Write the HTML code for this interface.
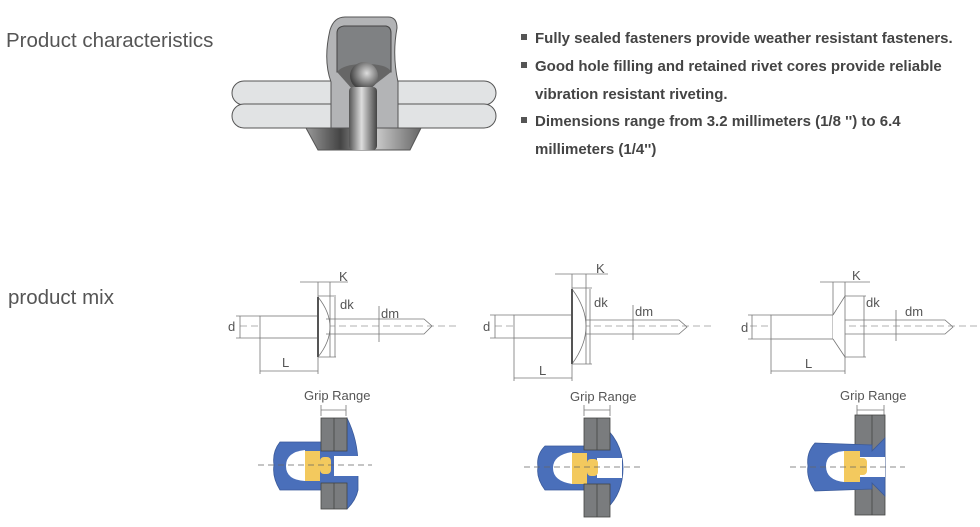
<!DOCTYPE html>
<html><head><meta charset="utf-8"><style>
body{margin:0;background:#fff;width:980px;height:527px;overflow:hidden;font-family:"Liberation Sans",sans-serif}
svg{position:absolute;left:0;top:0}
.t{font-family:"Liberation Sans",sans-serif;fill:#555}
</style></head><body>
<svg width="980" height="527" viewBox="0 0 980 527">
<defs>
<linearGradient id="mand" x1="0" x2="1"><stop offset="0" stop-color="#555"/><stop offset="0.45" stop-color="#ddd"/><stop offset="1" stop-color="#444"/></linearGradient>
<radialGradient id="ball" cx="0.6" cy="0.4" r="0.6"><stop offset="0" stop-color="#ddd"/><stop offset="1" stop-color="#444"/></radialGradient>
<linearGradient id="flange" x1="0" x2="1"><stop offset="0" stop-color="#999"/><stop offset="0.3" stop-color="#444"/><stop offset="0.6" stop-color="#ccc"/><stop offset="1" stop-color="#666"/></linearGradient>
</defs>
<text x="6" y="47" font-size="20.5" class="t" fill="#555">Product characteristics</text>
<text x="8" y="304" font-size="20.5" class="t">product mix</text>

<rect x="232" y="81" width="264" height="24" rx="12" fill="#e1e3e4" stroke="#555"/>
<rect x="232" y="104" width="264" height="24" rx="12" fill="#e1e3e4" stroke="#555"/>
<path d="M306 128 L421 128 L410 150 L318 150 Z" fill="url(#flange)" stroke="#555"/>
<path d="M331 128 L331 82 Q323 60 330 30 Q334 17 345 17 L388 17 Q397 17 397 28 Q392 55 398 82 L398 128 Z" fill="#b3b4b6" stroke="#555"/>
<path d="M337 72 L337 33 Q337 27 344 26 L386 26 Q391 27 391 33 L391 72 Z" fill="#7f8183" stroke="#444"/>
<path d="M337 72 Q343 64 365 64 Q388 64 391 72 L368 90 L353 90 Z" fill="#666"/>
<circle cx="364" cy="76" r="14" fill="url(#ball)"/>
<rect x="349" y="87" width="28" height="63" rx="4" fill="url(#mand)"/>

<g font-size="15" font-weight="bold">
<rect x="521" y="34" width="6" height="6" fill="#555"/>
<text x="535" y="43" class="t" style="fill:#444">Fully sealed fasteners provide weather resistant fasteners.</text>
<rect x="521" y="62" width="6" height="6" fill="#555"/>
<text x="535" y="71" class="t" style="fill:#444">Good hole filling and retained rivet cores provide reliable</text>
<text x="535" y="99" class="t" style="fill:#444">vibration resistant riveting.</text>
<rect x="521" y="117" width="6" height="6" fill="#555"/>
<text x="535" y="126" class="t" style="fill:#444">Dimensions range from 3.2 millimeters (1/8 '') to 6.4</text>
<text x="535" y="154" class="t" style="fill:#444">millimeters (1/4'')</text>
</g>

<g stroke="#777" stroke-width="0.8" fill="none">
<line x1="240" y1="326" x2="458" y2="326" stroke-dasharray="7,4" stroke="#999"/>
<rect x="260" y="316" width="58" height="22" fill="#fff"/>
<path d="M318 297 Q342 327 318 357" fill="#fff"/>
<line x1="318" y1="297" x2="318" y2="357" stroke="#555" stroke-width="2"/>
<path d="M326 319 L424 319 L432 326 L424 334 L326 334"/>
<line x1="300" y1="282" x2="348" y2="282"/><line x1="318" y1="282" x2="318" y2="297"/><line x1="330" y1="282" x2="330" y2="357"/>
<line x1="318" y1="296" x2="336" y2="296"/><line x1="318" y1="357" x2="336" y2="357"/><line x1="335" y1="297" x2="335" y2="357"/>
<line x1="379" y1="306" x2="379" y2="342"/>
<line x1="236" y1="316" x2="260" y2="316"/><line x1="236" y1="338" x2="260" y2="338"/><line x1="240" y1="316" x2="240" y2="338"/>
<line x1="260" y1="338" x2="260" y2="374"/><line x1="318" y1="357" x2="318" y2="374"/><line x1="260" y1="371" x2="318" y2="371"/>
<line x1="321" y1="405" x2="321" y2="416"/><line x1="346" y1="405" x2="346" y2="416"/><line x1="321" y1="410" x2="346" y2="410"/>
<line x1="495" y1="326" x2="713" y2="326" stroke-dasharray="7,4" stroke="#999"/>
<rect x="514" y="315" width="58" height="23" fill="#fff"/>
<path d="M572 289 Q600 326 572 364" fill="#fff"/>
<line x1="572" y1="289" x2="572" y2="364" stroke="#555" stroke-width="2"/>
<path d="M586 320 L679 320 L687 327 L679 334 L586 334"/>
<line x1="555" y1="274" x2="608" y2="274"/><line x1="572" y1="274" x2="572" y2="289"/><line x1="586" y1="274" x2="586" y2="364"/>
<line x1="572" y1="288" x2="592" y2="288"/><line x1="572" y1="364" x2="592" y2="364"/><line x1="590" y1="289" x2="590" y2="364"/>
<line x1="633" y1="305" x2="633" y2="340"/>
<line x1="490" y1="315" x2="514" y2="315"/><line x1="490" y1="338" x2="514" y2="338"/><line x1="495" y1="315" x2="495" y2="338"/>
<line x1="514" y1="338" x2="514" y2="381"/><line x1="572" y1="364" x2="572" y2="381"/><line x1="514" y1="378" x2="572" y2="378"/>
<line x1="584" y1="405" x2="584" y2="416"/><line x1="610" y1="405" x2="610" y2="416"/><line x1="584" y1="410" x2="610" y2="410"/>
<line x1="750" y1="326" x2="978" y2="326" stroke-dasharray="7,4" stroke="#999"/>
<rect x="771" y="315" width="62" height="24" fill="#fff"/>
<path d="M833 315 L845 296 L845 357 L833 339" fill="#fff"/>
<path d="M845 320 L945 320 L953 327 L945 334 L845 334"/>
<line x1="820" y1="282" x2="870" y2="282"/><line x1="833" y1="282" x2="833" y2="315"/><line x1="845" y1="282" x2="845" y2="296"/>
<line x1="845" y1="296" x2="866" y2="296"/><line x1="845" y1="357" x2="866" y2="357"/><line x1="864" y1="296" x2="864" y2="357"/>
<line x1="896" y1="310" x2="896" y2="341"/>
<line x1="748" y1="315" x2="771" y2="315"/><line x1="748" y1="339" x2="771" y2="339"/><line x1="752" y1="315" x2="752" y2="339"/>
<line x1="771" y1="339" x2="771" y2="374"/><line x1="845" y1="357" x2="845" y2="374"/><line x1="771" y1="371" x2="845" y2="371"/>
<line x1="857" y1="405" x2="857" y2="416"/><line x1="884" y1="405" x2="884" y2="416"/><line x1="857" y1="410" x2="884" y2="410"/>
</g>
<g font-size="13" class="t">
<text x="339" y="281">K</text><text x="340" y="309">dk</text><text x="381" y="318">dm</text><text x="228" y="331">d</text><text x="282" y="367">L</text><text x="304" y="400">Grip Range</text>
<text x="596" y="273">K</text><text x="594" y="307">dk</text><text x="635" y="316">dm</text><text x="483" y="331">d</text><text x="539" y="375">L</text><text x="570" y="401">Grip Range</text>
<text x="852" y="280">K</text><text x="866" y="307">dk</text><text x="905" y="316">dm</text><text x="741" y="332">d</text><text x="805" y="368">L</text><text x="840" y="400">Grip Range</text>
</g>

<g>
<path d="M347 418 Q358 440 358 465 L358 490 Q356 500 347 509 L334 490 L280 490 Q272 477 274 465 Q272 452 280 442 L334 442 Z" fill="#4a6fba" stroke="#3a5a9a" stroke-width="0.8"/>
<path d="M305 450 Q286 452 286 466 Q286 480 305 481 Z" fill="#fff"/>
<rect x="334" y="456" width="25" height="20" fill="#fff"/>
<rect x="305" y="451" width="15" height="30" fill="#f3c95e"/>
<rect x="320" y="457" width="11" height="17" rx="4" fill="#f3c95e"/>
<rect x="321" y="418" width="26" height="33" fill="#7a7c7e" stroke="#444" stroke-width="0.8"/><line x1="334" y1="418" x2="334" y2="451" stroke="#444" stroke-width="0.8"/>
<rect x="321" y="483" width="26" height="26" fill="#7a7c7e" stroke="#444" stroke-width="0.8"/><line x1="334" y1="483" x2="334" y2="509" stroke="#444" stroke-width="0.8"/>
<line x1="258" y1="465" x2="372" y2="465" stroke="#666" stroke-width="0.8" stroke-dasharray="6,4"/>
</g>
<g>
<path d="M597 420 Q623 440 623 468 Q623 500 597 516 L584 490 L545 490 Q536 478 538 467 Q536 455 545 446 L584 446 Z" fill="#4a6fba" stroke="#3a5a9a" stroke-width="0.8"/>
<path d="M572 452 Q553 455 553 468 Q553 481 572 484 Z" fill="#fff"/>
<rect x="597" y="458" width="25" height="20" fill="#fff"/>
<rect x="572" y="453" width="15" height="31" fill="#f3c95e"/>
<rect x="587" y="459" width="11" height="17" rx="4" fill="#f3c95e"/>
<rect x="584" y="418" width="26" height="32" fill="#7a7c7e" stroke="#444" stroke-width="0.8"/><line x1="597" y1="418" x2="597" y2="450" stroke="#444" stroke-width="0.8"/>
<rect x="584" y="484" width="26" height="33" fill="#7a7c7e" stroke="#444" stroke-width="0.8"/><line x1="597" y1="484" x2="597" y2="517" stroke="#444" stroke-width="0.8"/>
<line x1="524" y1="467" x2="640" y2="467" stroke="#666" stroke-width="0.8" stroke-dasharray="6,4"/>
</g>
<g>
<rect x="855" y="415" width="30" height="100" fill="#7a7c7e" stroke="#444" stroke-width="0.8"/><line x1="872" y1="415" x2="872" y2="515" stroke="#444" stroke-width="0.8"/>
<path d="M885 438 L885 496 L872 483 L872 489 L815 491 Q806 478 808 466 Q806 453 815 443 L872 445 L872 451 Z" fill="#4a6fba" stroke="#3a5a9a" stroke-width="0.8"/>
<path d="M844 451 Q826 453 826 466 Q826 480 844 482 Z" fill="#fff"/>
<rect x="859" y="457" width="26" height="20" fill="#fff"/>
<rect x="844" y="451" width="16" height="31" fill="#f3c95e"/>
<rect x="856" y="458" width="11" height="17" rx="4" fill="#f3c95e"/>
<line x1="790" y1="467" x2="905" y2="467" stroke="#666" stroke-width="0.8" stroke-dasharray="6,4"/>
</g>
</svg>
</body></html>
